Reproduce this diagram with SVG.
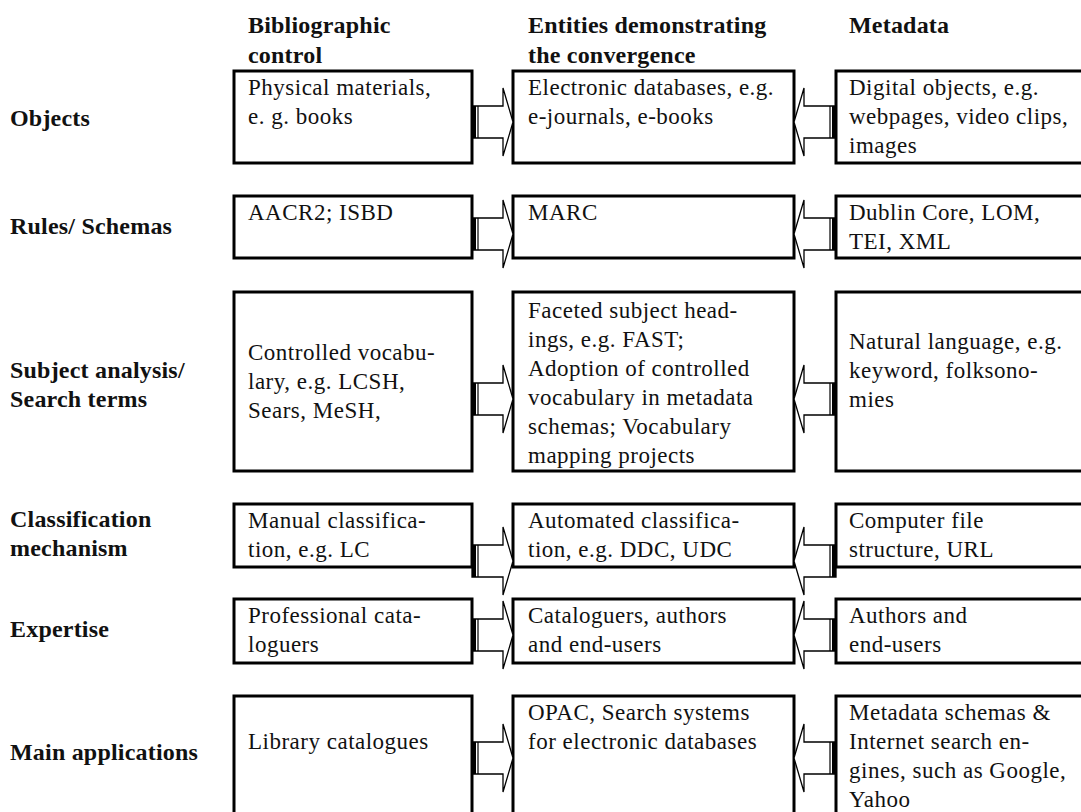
<svg xmlns="http://www.w3.org/2000/svg" xmlns:xlink="http://www.w3.org/1999/xlink" width="1081" height="812" viewBox="0 0 1081 812">
<style>
.box{fill:#fff;stroke:#000;stroke-width:3}
.t{font-family:"Liberation Serif","Times New Roman",serif;font-size:23px;letter-spacing:0.5px;fill:#111}
.h{font-family:"Liberation Serif","Times New Roman",serif;font-size:24px;font-weight:bold;fill:#111;letter-spacing:0.2px}
.arr{fill:#fff;stroke:#000;stroke-width:1.3}
</style>
<defs>
<g id="ra">
<polygon class="arr" points="472,-16 503,-16 503,-34 513,0 503,34 503,16 472,16"/>
<rect x="472" y="-16" width="4" height="32" fill="#000"/>
<line x1="478" y1="-16" x2="478" y2="16" stroke="#000" stroke-width="1.2"/>
</g>
<g id="la">
<polygon class="arr" points="836,-16 804,-16 804,-34 794,0 804,34 804,16 836,16"/>
<rect x="832" y="-16" width="4" height="32" fill="#000"/>
<line x1="830" y1="-16" x2="830" y2="16" stroke="#000" stroke-width="1.2"/>
</g>
</defs>
<rect width="1081" height="812" fill="#fff"/>

<g id="headers">
<text class="h" x="248" y="33">Bibliographic</text>
<text class="h" x="248" y="63">control</text>
<text class="h" x="528" y="33">Entities demonstrating</text>
<text class="h" x="528" y="63">the convergence</text>
<text class="h" x="849" y="33">Metadata</text>
</g>

<g id="row-labels">
<text class="h" x="10" y="126">Objects</text>
<text class="h" x="10" y="234">Rules/ Schemas</text>
<text class="h" x="10" y="378">Subject analysis/</text>
<text class="h" x="10" y="407">Search terms</text>
<text class="h" x="10" y="527">Classification</text>
<text class="h" x="10" y="556">mechanism</text>
<text class="h" x="10" y="637">Expertise</text>
<text class="h" x="10" y="760">Main applications</text>
</g>

<g id="row1-left"><rect class="box" x="234" y="71" width="238" height="92"/>
<text class="t" x="248" y="95">Physical materials,</text><text class="t" x="248" y="124">e. g. books</text></g>
<g id="row1-mid"><rect class="box" x="513" y="71" width="281" height="92"/>
<text class="t" x="528" y="95">Electronic databases, e.g.</text><text class="t" x="528" y="124">e-journals, e-books</text></g>
<g id="row1-right"><rect class="box" x="836" y="71" width="260" height="92"/>
<text class="t" x="849" y="95">Digital objects, e.g.</text><text class="t" x="849" y="124">webpages, video clips,</text><text class="t" x="849" y="153">images</text></g>

<g id="row2-left"><rect class="box" x="234" y="196" width="238" height="62"/>
<text class="t" x="248" y="220">AACR2; ISBD</text></g>
<g id="row2-mid"><rect class="box" x="513" y="196" width="281" height="62"/>
<text class="t" x="528" y="220">MARC</text></g>
<g id="row2-right"><rect class="box" x="836" y="196" width="260" height="62"/>
<text class="t" x="849" y="220">Dublin Core, LOM,</text><text class="t" x="849" y="249">TEI, XML</text></g>

<g id="row3-left"><rect class="box" x="234" y="292" width="238" height="179"/>
<text class="t" x="248" y="360">Controlled vocabu-</text><text class="t" x="248" y="389">lary, e.g. LCSH,</text><text class="t" x="248" y="418">Sears, MeSH,</text></g>
<g id="row3-mid"><rect class="box" x="513" y="292" width="281" height="179"/>
<text class="t" x="528" y="318">Faceted subject head-</text><text class="t" x="528" y="347">ings, e.g. FAST;</text><text class="t" x="528" y="376">Adoption of controlled</text><text class="t" x="528" y="405">vocabulary in metadata</text><text class="t" x="528" y="434">schemas; Vocabulary</text><text class="t" x="528" y="463">mapping projects</text></g>
<g id="row3-right"><rect class="box" x="836" y="292" width="260" height="179"/>
<text class="t" x="849" y="349">Natural language, e.g.</text><text class="t" x="849" y="378">keyword, folksono-</text><text class="t" x="849" y="407">mies</text></g>

<g id="row4-left"><rect class="box" x="234" y="504" width="238" height="63"/>
<text class="t" x="248" y="528">Manual classifica-</text><text class="t" x="248" y="557">tion, e.g. LC</text></g>
<g id="row4-mid"><rect class="box" x="513" y="504" width="281" height="63"/>
<text class="t" x="528" y="528">Automated classifica-</text><text class="t" x="528" y="557">tion, e.g. DDC, UDC</text></g>
<g id="row4-right"><rect class="box" x="836" y="504" width="260" height="63"/>
<text class="t" x="849" y="528">Computer file</text><text class="t" x="849" y="557">structure, URL</text></g>

<g id="row5-left"><rect class="box" x="234" y="599" width="238" height="64"/>
<text class="t" x="248" y="623">Professional cata-</text><text class="t" x="248" y="652">loguers</text></g>
<g id="row5-mid"><rect class="box" x="513" y="599" width="281" height="64"/>
<text class="t" x="528" y="623">Cataloguers, authors</text><text class="t" x="528" y="652">and end-users</text></g>
<g id="row5-right"><rect class="box" x="836" y="599" width="260" height="64"/>
<text class="t" x="849" y="623">Authors and</text><text class="t" x="849" y="652">end-users</text></g>

<g id="row6-left"><rect class="box" x="234" y="696" width="238" height="140"/>
<text class="t" x="248" y="749">Library catalogues</text></g>
<g id="row6-mid"><rect class="box" x="513" y="696" width="281" height="140"/>
<text class="t" x="528" y="720">OPAC, Search systems</text><text class="t" x="528" y="749">for electronic databases</text></g>
<g id="row6-right"><rect class="box" x="836" y="696" width="260" height="140"/>
<text class="t" x="849" y="720">Metadata schemas &amp;</text><text class="t" x="849" y="749">Internet search en-</text><text class="t" x="849" y="778">gines, such as Google,</text><text class="t" x="849" y="807">Yahoo</text></g>

<g id="connectors">
<use xlink:href="#ra" transform="translate(0,122)"/>
<use xlink:href="#la" transform="translate(0,122)"/>
<use xlink:href="#ra" transform="translate(0,234)"/>
<use xlink:href="#la" transform="translate(0,234)"/>
<use xlink:href="#ra" transform="translate(0,399)"/>
<use xlink:href="#la" transform="translate(0,399)"/>
<use xlink:href="#ra" transform="translate(0,561)"/>
<use xlink:href="#la" transform="translate(0,561)"/>
<use xlink:href="#ra" transform="translate(0,635)"/>
<use xlink:href="#la" transform="translate(0,635)"/>
<use xlink:href="#ra" transform="translate(0,758)"/>
<use xlink:href="#la" transform="translate(0,758)"/>
</g>
</svg>
